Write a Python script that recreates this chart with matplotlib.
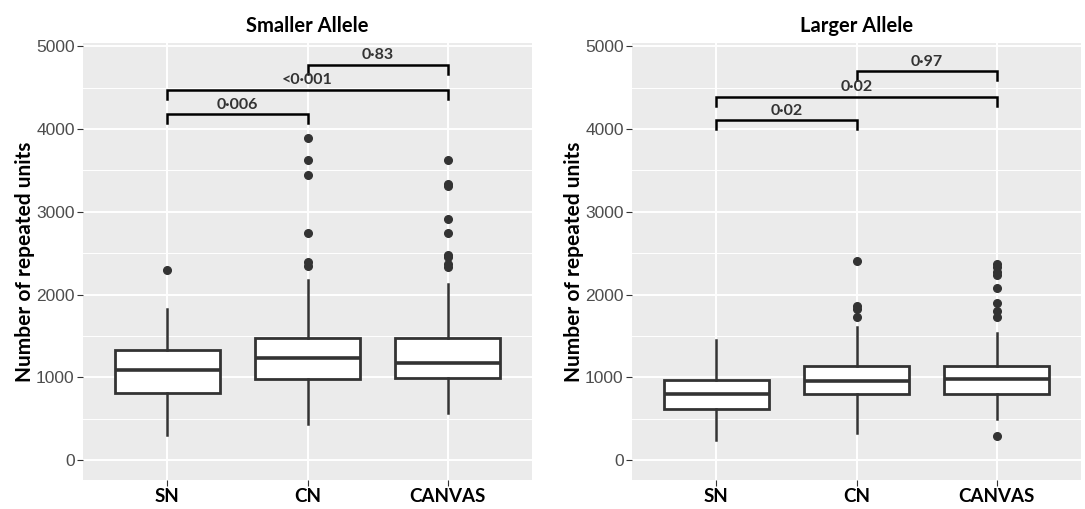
import matplotlib
matplotlib.use("Agg")
import matplotlib.pyplot as plt
from matplotlib.ticker import MultipleLocator

categories = ["SN", "CN", "CANVAS"]

# Smaller allele: (whislo, q1, med, q3, whishi)
small_whislo = [301, 442, 570]
small_q1 = [811, 984, 988]
small_med = [1092, 1237, 1173]
small_q3 = [1325, 1478, 1474]
small_whishi = [1827, 2181, 2129]
small_out_sn = [2301]
small_out_cn = [3888, 3632, 3440, 2748, 2390, 2349]
small_out_canvas = [3624, 3340, 3312, 2912, 2748, 2480, 2450, 2369, 2329]

# Larger allele
large_whislo = [249, 333, 494]
large_q1 = [614, 803, 803]
large_med = [795, 952, 976]
large_q3 = [972, 1137, 1137]
large_whishi = [1446, 1614, 1538]
large_out_sn = []
large_out_cn = [2410, 1867, 1827, 1727]
large_out_canvas = [2369, 2329, 2269, 2237, 2080, 1900, 1807, 1727, 289]

# Significance brackets: (group i, group j, y, label)
small_pairs = [(0, 1), (0, 2), (1, 2)]
small_bracket_y = [4180, 4476, 4780]
small_labels = ["0·006", "<0·001", "0·83"]
large_pairs = [(0, 1), (0, 2), (1, 2)]
large_bracket_y = [4108, 4392, 4700]
large_labels = ["0·02", "0·02", "0·97"]

titles = ["Smaller Allele", "Larger Allele"]
ylabel = "Number of repeated units"

W, H = 1085, 509
fig = plt.figure(figsize=(W / 100, H / 100), dpi=100)
fig.patch.set_facecolor("white")

ax_pos = [
    [83 / W, 1 - 480 / H, (532 - 83) / W, (480 - 43) / H],
    [632 / W, 1 - 480 / H, (1081 - 632) / W, (480 - 43) / H],
]

bold_font = ["Lato", "DejaVu Sans"]
tick_font = ["Liberation Sans", "DejaVu Sans"]

def make_stats(wlo, q1, med, q3, whi, outs):
    stats = []
    for i in range(len(categories)):
        stats.append(dict(whislo=wlo[i], q1=q1[i], med=med[i], q3=q3[i],
                          whishi=whi[i], fliers=outs[i], label=categories[i]))
    return stats

panels = [
    (make_stats(small_whislo, small_q1, small_med, small_q3, small_whishi,
                [small_out_sn, small_out_cn, small_out_canvas]),
     small_pairs, small_bracket_y, small_labels),
    (make_stats(large_whislo, large_q1, large_med, large_q3, large_whishi,
                [large_out_sn, large_out_cn, large_out_canvas]),
     large_pairs, large_bracket_y, large_labels),
]

edge = "#333333"
for k, (stats, pairs, by, labs) in enumerate(panels):
    ax = fig.add_axes(ax_pos[k])
    ax.set_facecolor("#EBEBEB")
    pos = list(range(1, len(categories) + 1))
    ax.bxp(stats, positions=pos, widths=0.75, patch_artist=True, showcaps=False,
           boxprops=dict(facecolor="white", edgecolor=edge, linewidth=2),
           medianprops=dict(color=edge, linewidth=2.6),
           whiskerprops=dict(color=edge, linewidth=1.8),
           flierprops=dict(marker="o", markerfacecolor=edge, markeredgecolor=edge,
                           markersize=5.5, linestyle="none"),
           zorder=3)
    ax.set_xlim(0.4, 3.6)
    ax.set_ylim(-240, 5040)
    ax.yaxis.set_major_locator(MultipleLocator(1000))
    ax.yaxis.set_minor_locator(MultipleLocator(500))
    ax.grid(which="major", color="white", linewidth=1.4, zorder=0)
    ax.grid(which="minor", axis="y", color="white", linewidth=0.7, zorder=0)
    ax.set_axisbelow(True)
    for s in ax.spines.values():
        s.set_visible(False)
    ax.set_xticks(pos)
    ax.set_xticklabels(categories, fontfamily=bold_font, fontweight="bold",
                       fontsize=13.5, color="black")
    ax.tick_params(axis="x", length=4, color="#333333", pad=1.5)
    ax.tick_params(axis="y", which="major", length=4, color="#333333",
                   labelsize=12.5, labelcolor="#4D4D4D", pad=2)
    ax.tick_params(axis="y", which="minor", length=0)
    for t in ax.get_yticklabels():
        t.set_fontfamily(tick_font)
    ax.set_title(titles[k], fontfamily=bold_font, fontweight="bold", fontsize=14.5,
                 pad=8)
    ax.set_ylabel(ylabel, fontfamily=bold_font, fontweight="bold", fontsize=15,
                  labelpad=1)
    for (i, j), y, lab in zip(pairs, by, labs):
        x1, x2 = pos[i], pos[j]
        tick = 110
        ax.plot([x1, x1, x2, x2], [y - tick, y, y, y - tick], color="black",
                linewidth=1.8, zorder=4, solid_joinstyle="miter")
        ax.text((x1 + x2) / 2, y + 30, lab, ha="center", va="bottom",
                fontfamily=bold_font, fontweight="bold", fontsize=11.5,
                color="#333333", zorder=5)

fig.savefig("out.png", dpi=100)
